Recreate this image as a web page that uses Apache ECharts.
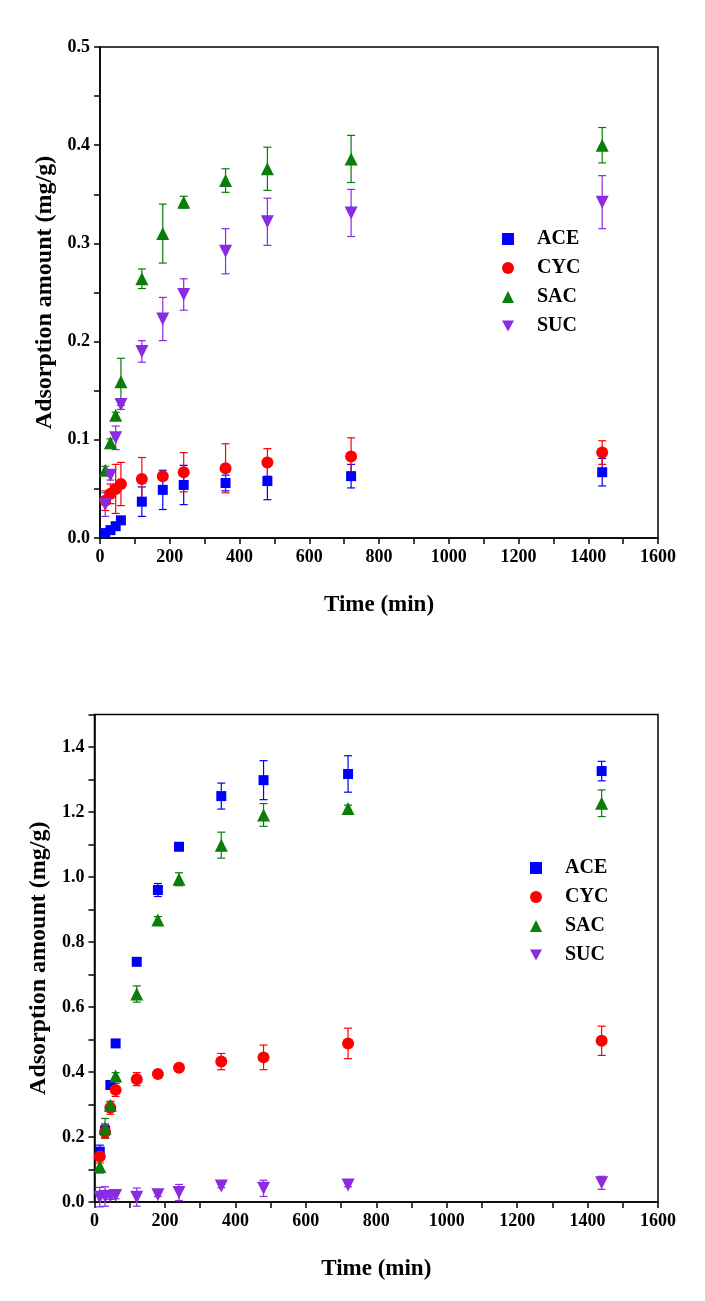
<!DOCTYPE html>
<html>
<head>
<meta charset="utf-8">
<script src="https://cdn.jsdelivr.net/npm/echarts@6/dist/echarts.min.js"></script>
<style>
  html, body { margin: 0; padding: 0; background: #fff; }
  #main { width: 705px; height: 1301px; }
</style>
</head>
<body>
<div id="main"></div>
<script>
// sampling times (min)
const times = [15, 30, 45, 60, 120, 180, 240, 360, 480, 720, 1440]

// upper panel
const aceTop = [0.005, 0.008, 0.012, 0.018, 0.037, 0.049, 0.054, 0.056, 0.058, 0.063, 0.067]
const aceTopErr = [0.002, 0.002, 0.003, 0.003, 0.015, 0.02, 0.02, 0.008, 0.019, 0.012, 0.014]
const cycTop = [0.038, 0.045, 0.050, 0.055, 0.060, 0.063, 0.067, 0.071, 0.077, 0.083, 0.087]
const cycTopErr = [0.01, 0.01, 0.025, 0.022, 0.022, 0.003, 0.02, 0.025, 0.014, 0.019, 0.012]
const sacTop = [0.069, 0.097, 0.125, 0.159, 0.264, 0.310, 0.342, 0.364, 0.376, 0.386, 0.400]
const sacTopErr = [0.004, 0.004, 0.003, 0.024, 0.01, 0.03, 0.006, 0.012, 0.022, 0.024, 0.018]
const sucTop = [0.034, 0.064, 0.102, 0.136, 0.190, 0.223, 0.248, 0.292, 0.322, 0.331, 0.342]
const sucTopErr = [0.012, 0.005, 0.012, 0.005, 0.011, 0.022, 0.016, 0.023, 0.024, 0.024, 0.027]

// lower panel
const aceBot = [0.155, 0.22, 0.36, 0.488, 0.739, 0.96, 1.093, 1.249, 1.298, 1.317, 1.326]
const aceBotErr = [0.02, 0.02, 0.01, 0.005, 0.005, 0.02, 0.005, 0.04, 0.06, 0.056, 0.03]
const cycBot = [0.14, 0.216, 0.29, 0.345, 0.378, 0.394, 0.413, 0.432, 0.445, 0.488, 0.496]
const cycBotErr = [0.02, 0.02, 0.02, 0.02, 0.02, 0.005, 0.005, 0.025, 0.038, 0.047, 0.045]
const sacBot = [0.109, 0.227, 0.298, 0.388, 0.64, 0.868, 0.993, 1.098, 1.191, 1.211, 1.227]
const sacBotErr = [0.02, 0.03, 0.01, 0.01, 0.025, 0.01, 0.02, 0.04, 0.035, 0.01, 0.041]
const sucBot = [0.015, 0.017, 0.018, 0.02, 0.015, 0.022, 0.029, 0.049, 0.042, 0.052, 0.059]
const sucBotErr = [0.03, 0.03, 0.01, 0.01, 0.028, 0.005, 0.025, 0.005, 0.025, 0.005, 0.02]

const names = ['ACE', 'CYC', 'SAC', 'SUC']
const colors = ['#0000ff', '#ff0000', '#0a7d0a', '#8a2be2']
const symbols = ['rect', 'circle', 'triangle', 'path://M0,0 L10,0 L5,9 Z']
const sizes = [10, 12, 13, 13]

const font = 'Liberation Serif'

function pairs (ys) {
  return times.map((t, i) => [t, ys[i]])
}
function errData (ys, es) {
  return times.map((t, i) => [t, ys[i] - es[i], ys[i] + es[i]])
}

// error bar: vertical line with caps
function renderErr (params, api) {
  const x = api.value(0)
  const lo = api.coord([x, api.value(1)])
  const hi = api.coord([x, api.value(2)])
  const w = 4
  const style = { stroke: api.visual('color'), lineWidth: 1.2 }
  return {
    type: 'group',
    children: [
      { type: 'line', shape: { x1: lo[0], y1: lo[1], x2: hi[0], y2: hi[1] }, style: style },
      { type: 'line', shape: { x1: lo[0] - w, y1: lo[1], x2: lo[0] + w, y2: lo[1] }, style: style },
      { type: 'line', shape: { x1: hi[0] - w, y1: hi[1], x2: hi[0] + w, y2: hi[1] }, style: style }
    ]
  }
}

function xAxis (gridIndex) {
  return {
    type: 'value',
    gridIndex: gridIndex,
    min: 0,
    max: 1600,
    interval: 100,
    name: 'Time (min)',
    nameLocation: 'middle',
    nameGap: 56,
    nameTextStyle: { fontFamily: font, fontWeight: 'bold', fontSize: 23, color: '#000' },
    axisLine: { lineStyle: { color: '#000', width: 1.5 } },
    axisTick: { length: 6, lineStyle: { color: '#000', width: 1.5 } },
    axisLabel: {
      fontFamily: font, fontWeight: 'bold', fontSize: 18, color: '#000', margin: 10,
      formatter: v => (v % 200 === 0 ? String(v) : '')
    },
    splitLine: { show: false }
  }
}

function yAxis (gridIndex, max, step, labelEvery) {
  return {
    type: 'value',
    gridIndex: gridIndex,
    min: 0,
    max: max,
    interval: step,
    name: 'Adsorption amount (mg/g)',
    nameLocation: 'middle',
    nameGap: 42,
    nameTextStyle: { fontFamily: font, fontWeight: 'bold', fontSize: 24, color: '#000' },
    axisLine: { lineStyle: { color: '#000', width: 1.5 } },
    axisTick: { length: 6, lineStyle: { color: '#000', width: 1.5 } },
    axisLabel: {
      fontFamily: font, fontWeight: 'bold', fontSize: 18, color: '#000', margin: 10,
      formatter: v => (Math.round(v / step) % labelEvery === 0 ? v.toFixed(1) : '')
    },
    splitLine: { show: false }
  }
}

const panels = [
  [aceTop, cycTop, sacTop, sucTop],
  [aceBot, cycBot, sacBot, sucBot]
]
const panelErrs = [
  [aceTopErr, cycTopErr, sacTopErr, sucTopErr],
  [aceBotErr, cycBotErr, sacBotErr, sucBotErr]
]

const series = []
panels.forEach((vals, g) => {
  vals.forEach((ys, k) => {
    series.push({
      name: names[k] + ' err' + g,
      type: 'custom',
      xAxisIndex: g,
      yAxisIndex: g,
      renderItem: renderErr,
      itemStyle: { color: colors[k] },
      data: errData(ys, panelErrs[g][k]),
      z: 1,
      silent: true
    })
  })
  vals.forEach((ys, k) => {
    series.push({
      name: names[k],
      type: 'scatter',
      xAxisIndex: g,
      yAxisIndex: g,
      symbol: symbols[k],
      symbolSize: sizes[k],
      itemStyle: { color: colors[k], opacity: 1 },
      data: pairs(ys),
      z: 3
    })
  })
})

const legendBase = {
  orient: 'vertical',
  data: names.map((n, k) => ({ name: n, icon: symbols[k] })),
  itemWidth: 12,
  itemHeight: 12,
  itemGap: 9,
  selectedMode: false,
  textStyle: {
    fontFamily: font, fontWeight: 'bold', fontSize: 20, color: '#000',
    padding: [0, 0, 0, 18]
  }
}

const chart = echarts.init(document.getElementById('main'))
chart.setOption({
  backgroundColor: '#fff',
  animation: false,
  grid: [
    { left: 100, top: 47, width: 558, height: 491, show: true, borderColor: '#000', borderWidth: 1.5, backgroundColor: '#fff' },
    { left: 94.5, top: 714.5, width: 563.5, height: 487.5, show: true, borderColor: '#000', borderWidth: 1.5, backgroundColor: '#fff' }
  ],
  legend: [
    Object.assign({}, legendBase, { left: 497, top: 224 }),
    Object.assign({}, legendBase, { left: 525, top: 853 })
  ],
  xAxis: [xAxis(0), xAxis(1)],
  yAxis: [yAxis(0, 0.5, 0.05, 2), yAxis(1, 1.5, 0.1, 2)],
  series: series
})
</script>
</body>
</html>
